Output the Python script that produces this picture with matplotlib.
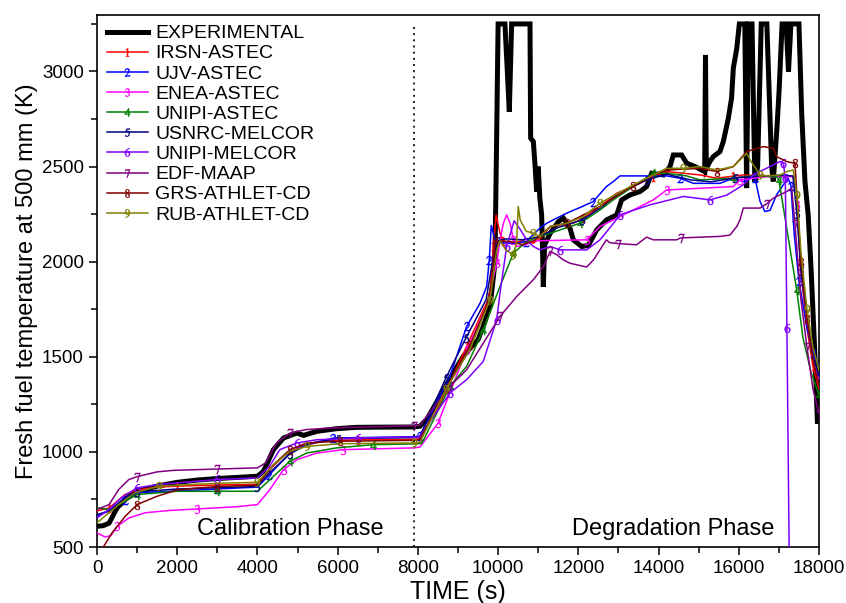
import matplotlib
matplotlib.use("Agg")
import matplotlib.pyplot as plt

plt.rcParams['font.family'] = ['Liberation Sans', 'DejaVu Sans']
plt.rcParams['mathtext.fontset'] = 'stix'

# ---------------- data (time s, temperature K) ----------------
exp_pts = [(0, 609), (150, 612), (300, 625), (500, 706), (750, 758), (1000, 793), (1500, 820),
           (2000, 840), (2500, 852), (3000, 860), (3500, 866), (4000, 872), (4150, 898),
           (4400, 1012), (4650, 1073), (4980, 1099), (5150, 1087), (5480, 1108), (5970, 1122),
           (6460, 1129), (7000, 1130), (7900, 1131), (8050, 1135), (8220, 1170), (8550, 1292),
           (8880, 1415), (9130, 1502), (9300, 1546), (9500, 1590), (9630, 1660), (9800, 1765),
           (9920, 1992), (9960, 2600), (10000, 3250), (10170, 3250), (10230, 3000), (10279, 2789),
           (10337, 3250), (10795, 3250), (10811, 2650), (10878, 2632), (10920, 2509), (10961, 2369),
           (11000, 2500), (11040, 2334), (11085, 2246), (11110, 2037), (11127, 1868), (11160, 2089),
           (11300, 2150), (11500, 2210), (11625, 2230), (11790, 2177), (11875, 2115), (12083, 2080),
           (12250, 2085), (12457, 2167), (12706, 2220), (12956, 2246), (13080, 2325), (13288, 2351),
           (13537, 2369), (13703, 2395), (13828, 2465), (14120, 2456), (14285, 2500), (14368, 2561),
           (14576, 2561), (14700, 2518), (14908, 2500), (15074, 2482), (15150, 2474), (15170, 3087),
           (15190, 2490), (15280, 2527), (15365, 2553), (15530, 2579), (15615, 2632), (15740, 2754),
           (15820, 2860), (15864, 3017), (15950, 3122), (16014, 3250), (16150, 3250), (16196, 2387),
           (16240, 3250), (16330, 3250), (16400, 2420), (16470, 2500), (16560, 3250), (16700, 3250),
           (16820, 2500), (16860, 2422), (16950, 2700), (17000, 2877), (17080, 3250), (17180, 3250),
           (17240, 3000), (17300, 3250), (17500, 3250), (17570, 2772), (17650, 2422), (17730, 2246),
           (17800, 1973), (17900, 1500), (17960, 1160)]

irsn_pts = [(0, 690), (300, 705), (700, 776), (1000, 800), (1500, 815), (2000, 820), (3000, 826),
            (4000, 830), (4300, 907), (4650, 977), (5060, 1029), (5640, 1056), (6500, 1064),
            (7900, 1066), (8050, 1070), (8550, 1250), (9216, 1555), (9631, 1747), (9800, 1817),
            (9880, 2080), (9950, 2246), (10047, 2150), (10130, 2110), (10300, 2097), (10600, 2110),
            (10878, 2097), (11100, 2132), (11294, 2185), (11870, 2202), (12125, 2229), (12540, 2290),
            (12956, 2360), (13371, 2395), (13870, 2447), (14200, 2474), (14620, 2465), (15033, 2456),
            (15449, 2439), (15864, 2450), (16113, 2456), (16700, 2452), (17360, 2450), (17450, 2300),
            (17550, 1950), (17700, 1650), (17850, 1450), (18000, 1330)]

ujv_pts = [(0, 662), (300, 690), (700, 749), (1000, 785), (2000, 795), (3000, 805), (4000, 815),
           (4300, 880), (4810, 994), (5230, 1038), (5890, 1073), (7900, 1080), (8050, 1085),
           (8800, 1397), (9216, 1660), (9550, 1782), (9715, 1870), (9780, 2010), (9830, 2190),
           (9880, 2150), (9950, 2095), (10047, 2100), (10379, 2095), (10700, 2106), (11044, 2177),
           (11210, 2202), (11459, 2229), (11709, 2255), (12041, 2285), (12370, 2316), (12700, 2395),
           (12870, 2421), (13040, 2451), (13786, 2451), (14202, 2451), (14530, 2439), (14870, 2412),
           (15530, 2412), (15864, 2439), (16113, 2421), (16280, 2440), (16404, 2439), (16530, 2317),
           (16650, 2264), (16780, 2270), (16944, 2352), (17111, 2404), (17230, 2440), (17300, 2400),
           (17380, 2150), (17500, 1900), (17700, 1650), (17850, 1520), (18000, 1450)]

enea_pts = [(0, 574), (200, 553), (350, 560), (500, 609), (800, 653), (1200, 680), (1800, 692),
            (2500, 700), (3500, 712), (4000, 723), (4310, 802), (4650, 907), (4980, 959),
            (5480, 994), (6140, 1012), (7900, 1021), (8050, 1025), (8500, 1150), (9216, 1537),
            (9715, 1765), (9964, 1992), (10047, 2115), (10130, 2202), (10213, 2246), (10300, 2202),
            (10380, 2115), (10463, 2080), (10700, 2090), (10878, 2110), (12208, 2115), (12540, 2185),
            (12873, 2220), (13371, 2272), (13870, 2325), (14200, 2377), (15033, 2386), (15864, 2395),
            (16030, 2430), (16695, 2447), (17360, 2447), (17450, 2300), (17550, 1950), (17700, 1700),
            (17850, 1500), (18000, 1380)]

unipi_astec_pts = [(0, 706), (300, 697), (700, 740), (1000, 776), (2000, 793), (3000, 793),
                   (4000, 793), (4400, 872), (4810, 951), (5230, 994), (5970, 1021), (6890, 1038),
                   (7900, 1042), (8100, 1045), (8800, 1345), (9216, 1450), (9631, 1642), (10047, 1870),
                   (10380, 2045), (10710, 2106), (11044, 2132), (11545, 2167), (12040, 2202),
                   (12540, 2272), (12870, 2325), (13400, 2400), (13870, 2465), (14200, 2465),
                   (14700, 2451), (15033, 2430), (15864, 2439), (16280, 2451), (16945, 2447),
                   (17000, 2430), (17443, 1853), (17600, 1600), (17800, 1420), (18000, 1300)]

usnrc_pts = [(0, 670), (300, 690), (700, 760), (1000, 790), (2000, 805), (4000, 818), (4300, 890),
             (4810, 990), (5300, 1045), (6000, 1070), (7900, 1075), (8050, 1080), (8700, 1390),
             (9200, 1600), (9700, 1800), (9900, 2050), (9980, 2110), (10200, 2120), (10600, 2115),
             (11000, 2130), (11500, 2180), (12100, 2220), (12600, 2290), (13000, 2360), (13700, 2430),
             (14200, 2460), (14800, 2430), (15300, 2420), (15900, 2440), (16500, 2450), (17100, 2455),
             (17350, 2450), (17450, 2250), (17550, 1950), (17700, 1700), (17850, 1500), (18000, 1400)]

unipi_melcor_pts = [(0, 653), (300, 697), (600, 758), (1000, 811), (1500, 828), (2500, 846),
                    (3000, 855), (4000, 863), (4300, 924), (4560, 1012), (4980, 1047), (5480, 1064),
                    (6500, 1073), (7900, 1078), (8050, 1082), (8800, 1310), (9216, 1380), (9631, 1476),
                    (9964, 1695), (10047, 1835), (10213, 2080), (10400, 2215), (10550, 2170),
                    (10710, 2115), (10878, 2080), (11044, 2062), (11300, 2080), (11545, 2062),
                    (12208, 2062), (12540, 2115), (12870, 2200), (13040, 2247), (13786, 2299),
                    (14620, 2343), (15283, 2325), (15700, 2350), (16113, 2404), (16363, 2457),
                    (16700, 2492), (17030, 2527), (17110, 2520), (17160, 2440), (17200, 1650),
                    (17260, 400)]

edf_pts = [(0, 697), (300, 723), (540, 802), (790, 854), (1000, 870), (1500, 895), (1900, 903),
           (3000, 910), (4000, 916), (4200, 942), (4480, 1047), (4810, 1099), (5200, 1117),
           (5810, 1126), (7900, 1138), (8050, 1140), (8800, 1345), (9216, 1432), (9631, 1572),
           (10047, 1712), (10463, 1817), (10878, 1905), (11130, 1975), (11294, 2054), (11460, 2037),
           (11620, 2010), (11790, 1992), (12208, 1972), (12380, 2010), (12700, 2115), (12780, 2100),
           (13000, 2095), (13450, 2089), (13700, 2129), (13870, 2115), (14450, 2115), (14550, 2125),
           (15530, 2133), (15780, 2140), (15950, 2185), (16030, 2220), (16113, 2282), (16530, 2282),
           (16700, 2305), (16860, 2334), (17030, 2352), (17195, 2369), (17318, 2387), (17400, 2200),
           (17550, 1800), (17700, 1550), (17850, 1330), (18000, 1200)]

grs_pts = [(0, 440), (170, 504), (374, 574), (706, 662), (1000, 723), (1500, 767), (2000, 800),
           (2500, 810), (3000, 818), (4000, 825), (4400, 933), (4810, 1012), (5230, 1047),
           (6060, 1056), (7900, 1061), (8050, 1065), (8700, 1330), (9300, 1560), (9700, 1760),
           (9850, 1900), (9922, 2107), (10300, 2107), (10600, 2090), (10900, 2110), (11300, 2185),
           (11709, 2202), (12540, 2290), (13371, 2400), (13870, 2456), (14202, 2482), (15033, 2491),
           (15449, 2474), (15864, 2500), (16200, 2579), (16363, 2590), (16610, 2605), (16860, 2597),
           (16945, 2552), (17200, 2526), (17400, 2517), (17450, 2350), (17550, 2000), (17700, 1700),
           (17850, 1480), (18000, 1350)]

rub_pts = [(0, 627), (300, 680), (540, 723), (950, 785), (1540, 820), (2300, 828), (3000, 835),
           (4000, 840), (4400, 933), (4810, 1003), (5230, 1029), (6060, 1043), (7900, 1047),
           (8050, 1050), (8700, 1330), (9300, 1540), (9800, 1800), (9964, 2062), (10047, 2110),
           (10200, 2060), (10380, 2037), (10460, 2100), (10503, 2290), (10550, 2220), (10700, 2160),
           (10878, 2150), (11044, 2132), (11294, 2185), (11709, 2202), (12125, 2237), (12540, 2308),
           (13371, 2404), (13870, 2456), (14200, 2491), (14620, 2491), (15033, 2500), (15449, 2482),
           (15864, 2500), (16200, 2570), (16280, 2535), (16530, 2456), (16695, 2451), (17030, 2456),
           (17200, 2474), (17360, 2482), (17450, 2350), (17550, 2050), (17700, 1750), (17850, 1550),
           (18000, 1430)]

series_names = ["IRSN-ASTEC", "UJV-ASTEC", "ENEA-ASTEC", "UNIPI-ASTEC", "USNRC-MELCOR",
                "UNIPI-MELCOR", "EDF-MAAP", "GRS-ATHLET-CD", "RUB-ATHLET-CD"]
series_data = [irsn_pts, ujv_pts, enea_pts, unipi_astec_pts, usnrc_pts,
               unipi_melcor_pts, edf_pts, grs_pts, rub_pts]
series_colors = ["#FF0000", "#0000FF", "#FF00FF", "#008000", "#000080",
                 "#8000FF", "#800080", "#800000", "#808000"]

phase_boundary = 7900
sensor_limit = 3250
phase_labels = ["Calibration Phase", "Degradation Phase"]
phase_label_t = [4810, 14360]
phase_label_T = 595

# ---------------- figure ----------------
fig = plt.figure(figsize=(8.46, 6.03), dpi=100)
ax = fig.add_axes([97 / 846, 56 / 603, (819 - 97) / 846, (547 - 15) / 603])

et, eT = zip(*exp_pts)
ax.plot(et, eT, color="black", lw=3.6, label="EXPERIMENTAL", zorder=2, solid_joinstyle="miter")

for i, (name, pts, col) in enumerate(zip(series_names, series_data, series_colors)):
    t, T = zip(*pts)
    ax.plot(t, T, color=col, lw=1.1, label=name, marker=f"${i + 1}$", markersize=6.5,
            markeredgewidth=0.3, markevery=(0.02 + 0.008 * i, 0.095), zorder=3)

ax.vlines(phase_boundary, 500, sensor_limit, colors="black", linestyles=(0, (1.2, 2.5)), lw=1.2)

for lab, tx in zip(phase_labels, phase_label_t):
    ax.text(tx, phase_label_T, lab, ha="center", va="center", fontsize=17)

ax.set_xlim(0, 18000)
ax.set_ylim(500, 3297)
ax.set_xticks(range(0, 18001, 2000))
ax.set_xticks(range(1000, 18000, 2000), minor=True)
ax.set_yticks(range(500, 3001, 500))
ax.set_yticks(range(750, 3300, 500), minor=True)
ax.tick_params(axis="both", which="major", direction="out", length=6, width=1.1, labelsize=13.5,
               top=False, right=False)
ax.tick_params(axis="both", which="minor", direction="out", length=4, width=1.1,
               top=False, right=False)
for sp in ax.spines.values():
    sp.set_linewidth(1.2)

ax.set_xlabel("TIME (s)", fontsize=18, labelpad=2)
ax.set_ylabel("Fresh fuel temperature at 500 mm (K)", fontsize=17, labelpad=3)

leg = ax.legend(loc="upper left", frameon=False, fontsize=14, handlelength=2.1,
                handletextpad=0.4, labelspacing=0.13, borderaxespad=0.3, borderpad=0.2,
                markerscale=0.9)

fig.savefig("out.png", dpi=100)
